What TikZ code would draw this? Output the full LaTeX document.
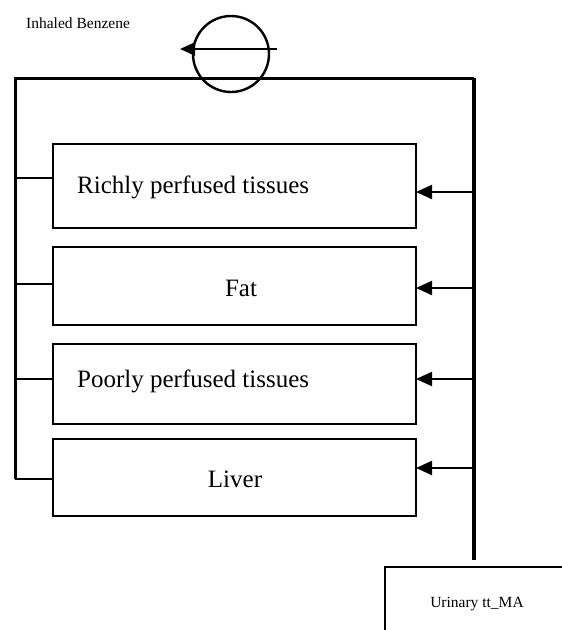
\documentclass[tikz,border=0pt]{standalone}
\usepackage{fontspec}
\setmainfont{Liberation Serif}
\usetikzlibrary{arrows.meta}
\begin{document}
\begin{tikzpicture}[x=1pt,y=-1pt,
  compartment/.style={draw, line width=2.4pt, rectangle, outer sep=0pt, inner sep=0pt,
    minimum width=363pt},
  bigtext/.style={font=\fontsize{25}{28}\selectfont, inner sep=0pt},
  smalltext/.style={font=\fontsize{15.5}{18}\selectfont, inner sep=0pt},
  bus/.style={line width=3pt},
  feed/.style={line width=2.2pt, -{Triangle[length=16pt,width=14pt]}},
  stub/.style={line width=2.2pt}]
\useasboundingbox (0,0) rectangle (562,630);
\clip (0,0) rectangle (562,630);

% inhalation label and valve symbol
\node[smalltext, anchor=west] (inh) at (26,23) {Inhaled Benzene};
\node[draw, circle, line width=2.4pt, minimum size=76pt, inner sep=0pt] (valve) at (231,54) {};
\coordinate (vin) at (277,49);
\coordinate (vout) at (180,49);
\draw[line width=2.2pt, -{Triangle[length=15pt,width=13pt]}] (vin) -- (vout);

% tissue compartments
\node[compartment, minimum height=84pt] (rich) at (234.5,186) {};
\node[compartment, minimum height=78pt] (fat) at (234.5,286) {};
\node[compartment, minimum height=80pt] (poor) at (234.5,384) {};
\node[compartment, minimum height=77pt] (liver) at (234.5,477.5) {};

\node[bigtext, anchor=west] (richT) at (77,187) {Richly perfused tissues};
\node[bigtext] (fatT) at (241,288) {Fat};
\node[bigtext, anchor=west] (poorT) at (77,381) {Poorly perfused tissues};
\node[bigtext] (liverT) at (235,479) {Liver};

% urine compartment
\node[draw, line width=2.2pt, rectangle, outer sep=0pt, minimum width=230pt,
  minimum height=120pt, anchor=north west] (urine) at (385,567) {};
\node[smalltext] (urineT) at (477,604) {Urinary tt\_MA};

% venous / arterial buses
\coordinate (tl) at (15,78);
\coordinate (tr) at (474,78);
\coordinate (bl) at (15,479);
\coordinate (br) at (474,560);
\draw[bus] (tr) -- (tl) -- (bl);
\draw[stub] (bl) -- (bl -| liver.west);
\draw[line width=3.5pt] (tr) -- (br);

% arterial supply to each compartment
\foreach \n/\y in {rich/192, fat/288, poor/379, liver/468}{
  \coordinate (a\n) at (474,\y);
  \draw[feed] (a\n) -- (a\n -| \n.east);
}

% venous return stubs
\foreach \n/\y in {rich/178, fat/284, poor/379}{
  \coordinate (v\n) at (15,\y);
  \draw[stub] (v\n) -- (v\n -| \n.west);
}
\end{tikzpicture}
\end{document}
